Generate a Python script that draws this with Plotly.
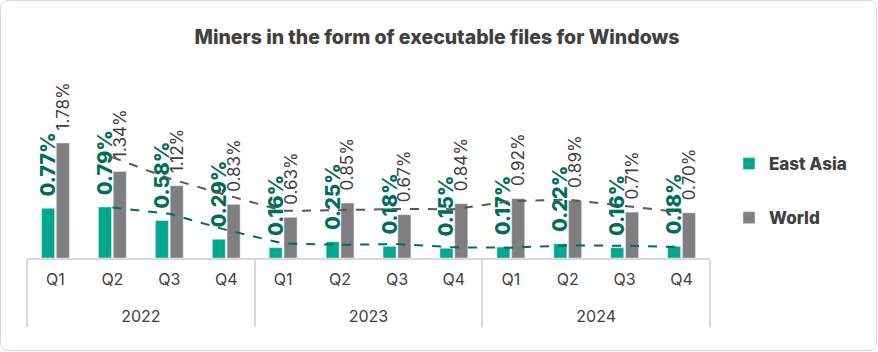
import plotly.graph_objects as go

years = ["2022", "2023", "2024"]
quarters = ["Q1", "Q2", "Q3", "Q4"]
east_asia = [0.77, 0.79, 0.58, 0.29, 0.16, 0.25, 0.18, 0.15, 0.17, 0.22, 0.16, 0.18]
world = [1.78, 1.34, 1.12, 0.83, 0.63, 0.85, 0.67, 0.84, 0.92, 0.89, 0.71, 0.70]

# year labels sit one line lower under the quarter labels
xy = ["<br>" + y for y in years for _ in quarters]
xq = [q for _ in years for q in quarters]

def moving_avg(v, n=2):
    return [sum(v[i - n + 1:i + 1]) / n for i in range(n - 1, len(v))]

W, H = 878, 352
L, R, T, B = 27, 168, 60, 94
ppu = 64.6
ymax = (H - T - B) / ppu

TEAL = "#00A88E"
GREY = "#7F7F7F"
DKGREEN = "#006D5B"
TXT = "#404040"
FONT = "Inter, Lato, sans-serif"
pad = "\u00a0\u00a0"

fig = go.Figure()
fig.add_trace(go.Bar(
    x=[xy, xq], y=east_asia, name="East Asia", marker_color=TEAL,
    texttemplate=pad + "%{y:.2f}%", textposition="outside", textangle=-90,
    constraintext="none", cliponaxis=False,
    textfont=dict(family=FONT, size=20, color=DKGREEN, weight=800),
    legendgroup="a", legendrank=1,
))
fig.add_trace(go.Bar(
    x=[xy, xq], y=world, name="World", marker_color=GREY,
    texttemplate=pad + "%{y:.2f}%", textposition="outside", textangle=-90,
    constraintext="none", cliponaxis=False,
    textfont=dict(family=FONT, size=17, color=TXT),
    legendgroup="b", legendrank=2,
))
fig.add_trace(go.Scatter(
    x=[xy[1:], xq[1:]], y=moving_avg(world), mode="lines",
    line=dict(color="#595959", width=2, dash="dash"), showlegend=False,
    hoverinfo="skip", cliponaxis=False,
))
fig.add_trace(go.Scatter(
    x=[xy[1:], xq[1:]], y=moving_avg(east_asia), mode="lines",
    line=dict(color=DKGREEN, width=2, dash="dash"), showlegend=False,
    hoverinfo="skip", cliponaxis=False,
))

# rounded outer border in paper coords
pw, ph = W - L - R, H - T - B
def px(xp): return (xp - L) / pw
def py(yp): return (H - B - yp) / ph
r = 8
x0, x1, y0, y1 = 0.5, W - 1.5, 0.5, H - 1.5
path = (f"M {px(x0+r)} {py(y0)} L {px(x1-r)} {py(y0)} Q {px(x1)} {py(y0)} {px(x1)} {py(y0+r)} "
        f"L {px(x1)} {py(y1-r)} Q {px(x1)} {py(y1)} {px(x1-r)} {py(y1)} "
        f"L {px(x0+r)} {py(y1)} Q {px(x0)} {py(y1)} {px(x0)} {py(y1-r)} "
        f"L {px(x0)} {py(y0+r)} Q {px(x0)} {py(y0)} {px(x0+r)} {py(y0)} Z")

fig.update_layout(
    width=W, height=H, margin=dict(l=L, r=R, t=T, b=B),
    paper_bgcolor="white", plot_bgcolor="white",
    title=dict(text="Miners in the form of executable files for Windows",
               x=437 / W, xanchor="center", y=1 - 37 / H, yanchor="middle",
               font=dict(family=FONT, size=19.5, color=TXT, weight=800)),
    barmode="group", bargap=0.48, bargroupgap=0.12,
    showlegend=True,
    legend=dict(x=(729 - L) / pw, xanchor="left", y=py(146), yanchor="top",
                font=dict(family=FONT, size=17, color=TXT, weight=800),
                traceorder="grouped", tracegroupgap=29, itemwidth=30,
                bgcolor="rgba(0,0,0,0)"),
    shapes=[dict(type="path", path=path, xref="paper", yref="paper",
                 line=dict(color="#D9D9D9", width=1), layer="below")],
    xaxis=dict(type="multicategory", showline=True, linecolor="#D9D9D9", linewidth=2,
               showgrid=False, ticks="", showdividers=True, dividercolor="#D9D9D9",
               dividerwidth=2, ticklabelstandoff=6,
               tickfont=dict(family=FONT, size=16, color=TXT)),
    yaxis=dict(visible=False, range=[0, ymax], showgrid=False, zeroline=False),
)

fig.write_html("out.html")
